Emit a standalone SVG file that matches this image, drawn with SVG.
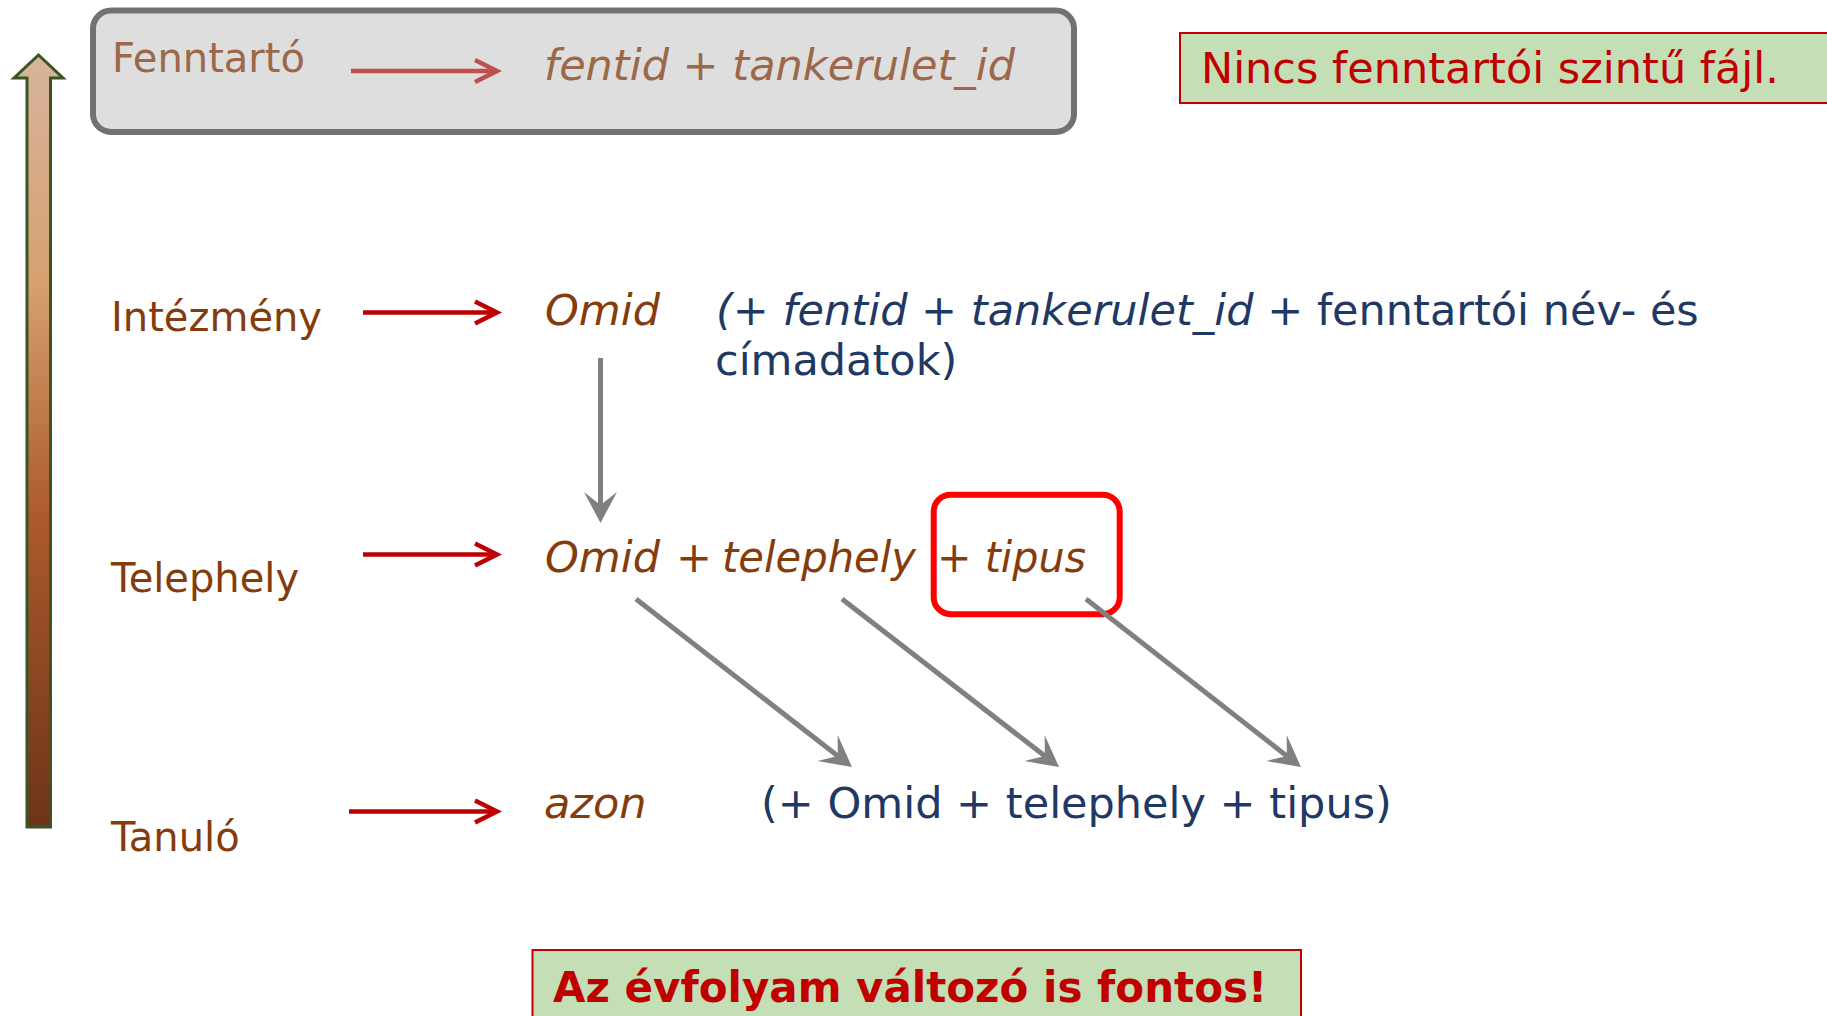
<svg xmlns="http://www.w3.org/2000/svg" width="1827" height="1016" viewBox="0 0 1827 1016">
  <defs>
    <linearGradient id="upGrad" x1="0" y1="0" x2="0" y2="1">
      <stop offset="0" stop-color="#D8B49C"/>
      <stop offset="0.3" stop-color="#D6A070"/>
      <stop offset="0.6" stop-color="#AC5A2C"/>
      <stop offset="1" stop-color="#6C3418"/>
    </linearGradient>
    <marker id="redHead" markerUnits="userSpaceOnUse" markerWidth="40" markerHeight="40" viewBox="-30 -20 40 40" refX="0" refY="0" orient="auto" overflow="visible">
      <path d="M -22 -11 L 0 0 L -22 11" fill="none" stroke="#C00000" stroke-width="4.5" stroke-linejoin="miter"/>
    </marker>
    <marker id="redHeadLight" markerUnits="userSpaceOnUse" markerWidth="40" markerHeight="40" viewBox="-30 -20 40 40" refX="0" refY="0" orient="auto" overflow="visible">
      <path d="M -22 -11 L 0 0 L -22 11" fill="none" stroke="#C0504D" stroke-width="4.5" stroke-linejoin="miter"/>
    </marker>
    <marker id="greyHead" markerUnits="userSpaceOnUse" markerWidth="60" markerHeight="60" viewBox="-30 -30 60 60" refX="0" refY="0" orient="auto" overflow="visible">
      <path d="M 18 0 L -13 -16.5 L 0 0 L -13 16.5 Z" fill="#808080"/>
    </marker>
  </defs>
  <style>
    .lbl { font-family: "DejaVu Sans", Verdana, sans-serif; font-size: 40px; fill: #843C0C; }
    .key { font-family: "DejaVu Sans", Verdana, sans-serif; font-size: 43px; font-style: italic; fill: #843C0C; }
    .navy { font-family: "DejaVu Sans", Verdana, sans-serif; font-size: 43px; fill: #1F3864; }
    .it { font-style: italic; }
    .redArrow { stroke: #C00000; stroke-width: 4.5; fill: none; marker-end: url(#redHead); }
    .greyArrow { stroke: #808080; stroke-width: 5; fill: none; marker-end: url(#greyHead); }
    .note { fill: #C4DFB5; stroke: #C00000; stroke-width: 2; }
    .noteText { font-family: "DejaVu Sans", Verdana, sans-serif; fill: #C00000; }
  </style>

  <g id="level-arrow">
    <path d="M 27 827 L 27 78 L 14 78 L 38.5 55 L 63 78 L 50.5 78 L 50.5 827 Z" fill="url(#upGrad)" stroke="#375623" stroke-width="3" stroke-linejoin="miter"/>
  </g>

  <g id="fenntarto">
    <rect x="93" y="10.5" width="981" height="121.5" rx="18" ry="18" fill="#DEDEDE" stroke="#767171" stroke-width="6"/>
    <text x="112" y="72" class="lbl" style="fill:#9C6849">Fenntartó</text>
    <text x="544" y="80" class="key" style="fill:#9C6849">fentid + tankerulet_id</text>
  </g>

  <g id="note-top">
    <rect x="1180" y="33" width="660" height="70" class="note"/>
    <text x="1201" y="83" class="noteText" font-size="43">Nincs fenntartói szintű fájl.</text>
  </g>

  <g id="intezmeny">
    <text x="111" y="331" class="lbl">Intézmény</text>
    <text x="545" y="325" class="key">Omid</text>
    <text x="716" y="325" class="navy"><tspan class="it">(</tspan>+ <tspan class="it">fentid</tspan> + <tspan class="it">tankerulet_id</tspan> + fenntartói név- és</text>
    <text x="715" y="375" class="navy">címadatok)</text>
  </g>

  <g id="telephely">
    <text x="111" y="592" class="lbl">Telephely</text>
    <text y="572" class="key"><tspan x="545">Omid</tspan><tspan x="676">+</tspan><tspan x="722" textLength="194" lengthAdjust="spacingAndGlyphs">telephely</tspan><tspan x="937" textLength="149" lengthAdjust="spacingAndGlyphs">+ tipus</tspan></text>
    <rect x="933.7" y="494.7" width="186" height="119.5" rx="17" ry="17" fill="none" stroke="#FF0000" stroke-width="6"/>
  </g>

  <g id="tanulo">
    <text x="111" y="851" class="lbl">Tanuló</text>
    <text x="544" y="818" class="key">azon</text>
    <text x="761" y="818" class="navy">(+ Omid + telephely + tipus)</text>
  </g>

  <g id="connectors">
    <line x1="351" y1="71" x2="497" y2="71" stroke="#C0504D" stroke-width="4.5" marker-end="url(#redHeadLight)"/>
    <line x1="363" y1="312.5" x2="497" y2="312.5" class="redArrow"/>
    <line x1="363" y1="554.5" x2="497" y2="554.5" class="redArrow"/>
    <line x1="349" y1="811.5" x2="497" y2="811.5" class="redArrow"/>
    <line x1="600.5" y1="358" x2="600.5" y2="505" class="greyArrow"/>
    <line x1="636" y1="599" x2="837.8" y2="756" class="greyArrow"/>
    <line x1="842" y1="599" x2="1044.8" y2="756" class="greyArrow"/>
    <line x1="1086" y1="599" x2="1286.8" y2="756" class="greyArrow"/>
  </g>

  <g id="note-bottom">
    <rect x="532.5" y="950" width="768.5" height="90" class="note"/>
    <text x="553" y="1002" class="noteText" font-size="42" font-weight="bold">Az évfolyam változó is fontos!</text>
  </g>
</svg>
